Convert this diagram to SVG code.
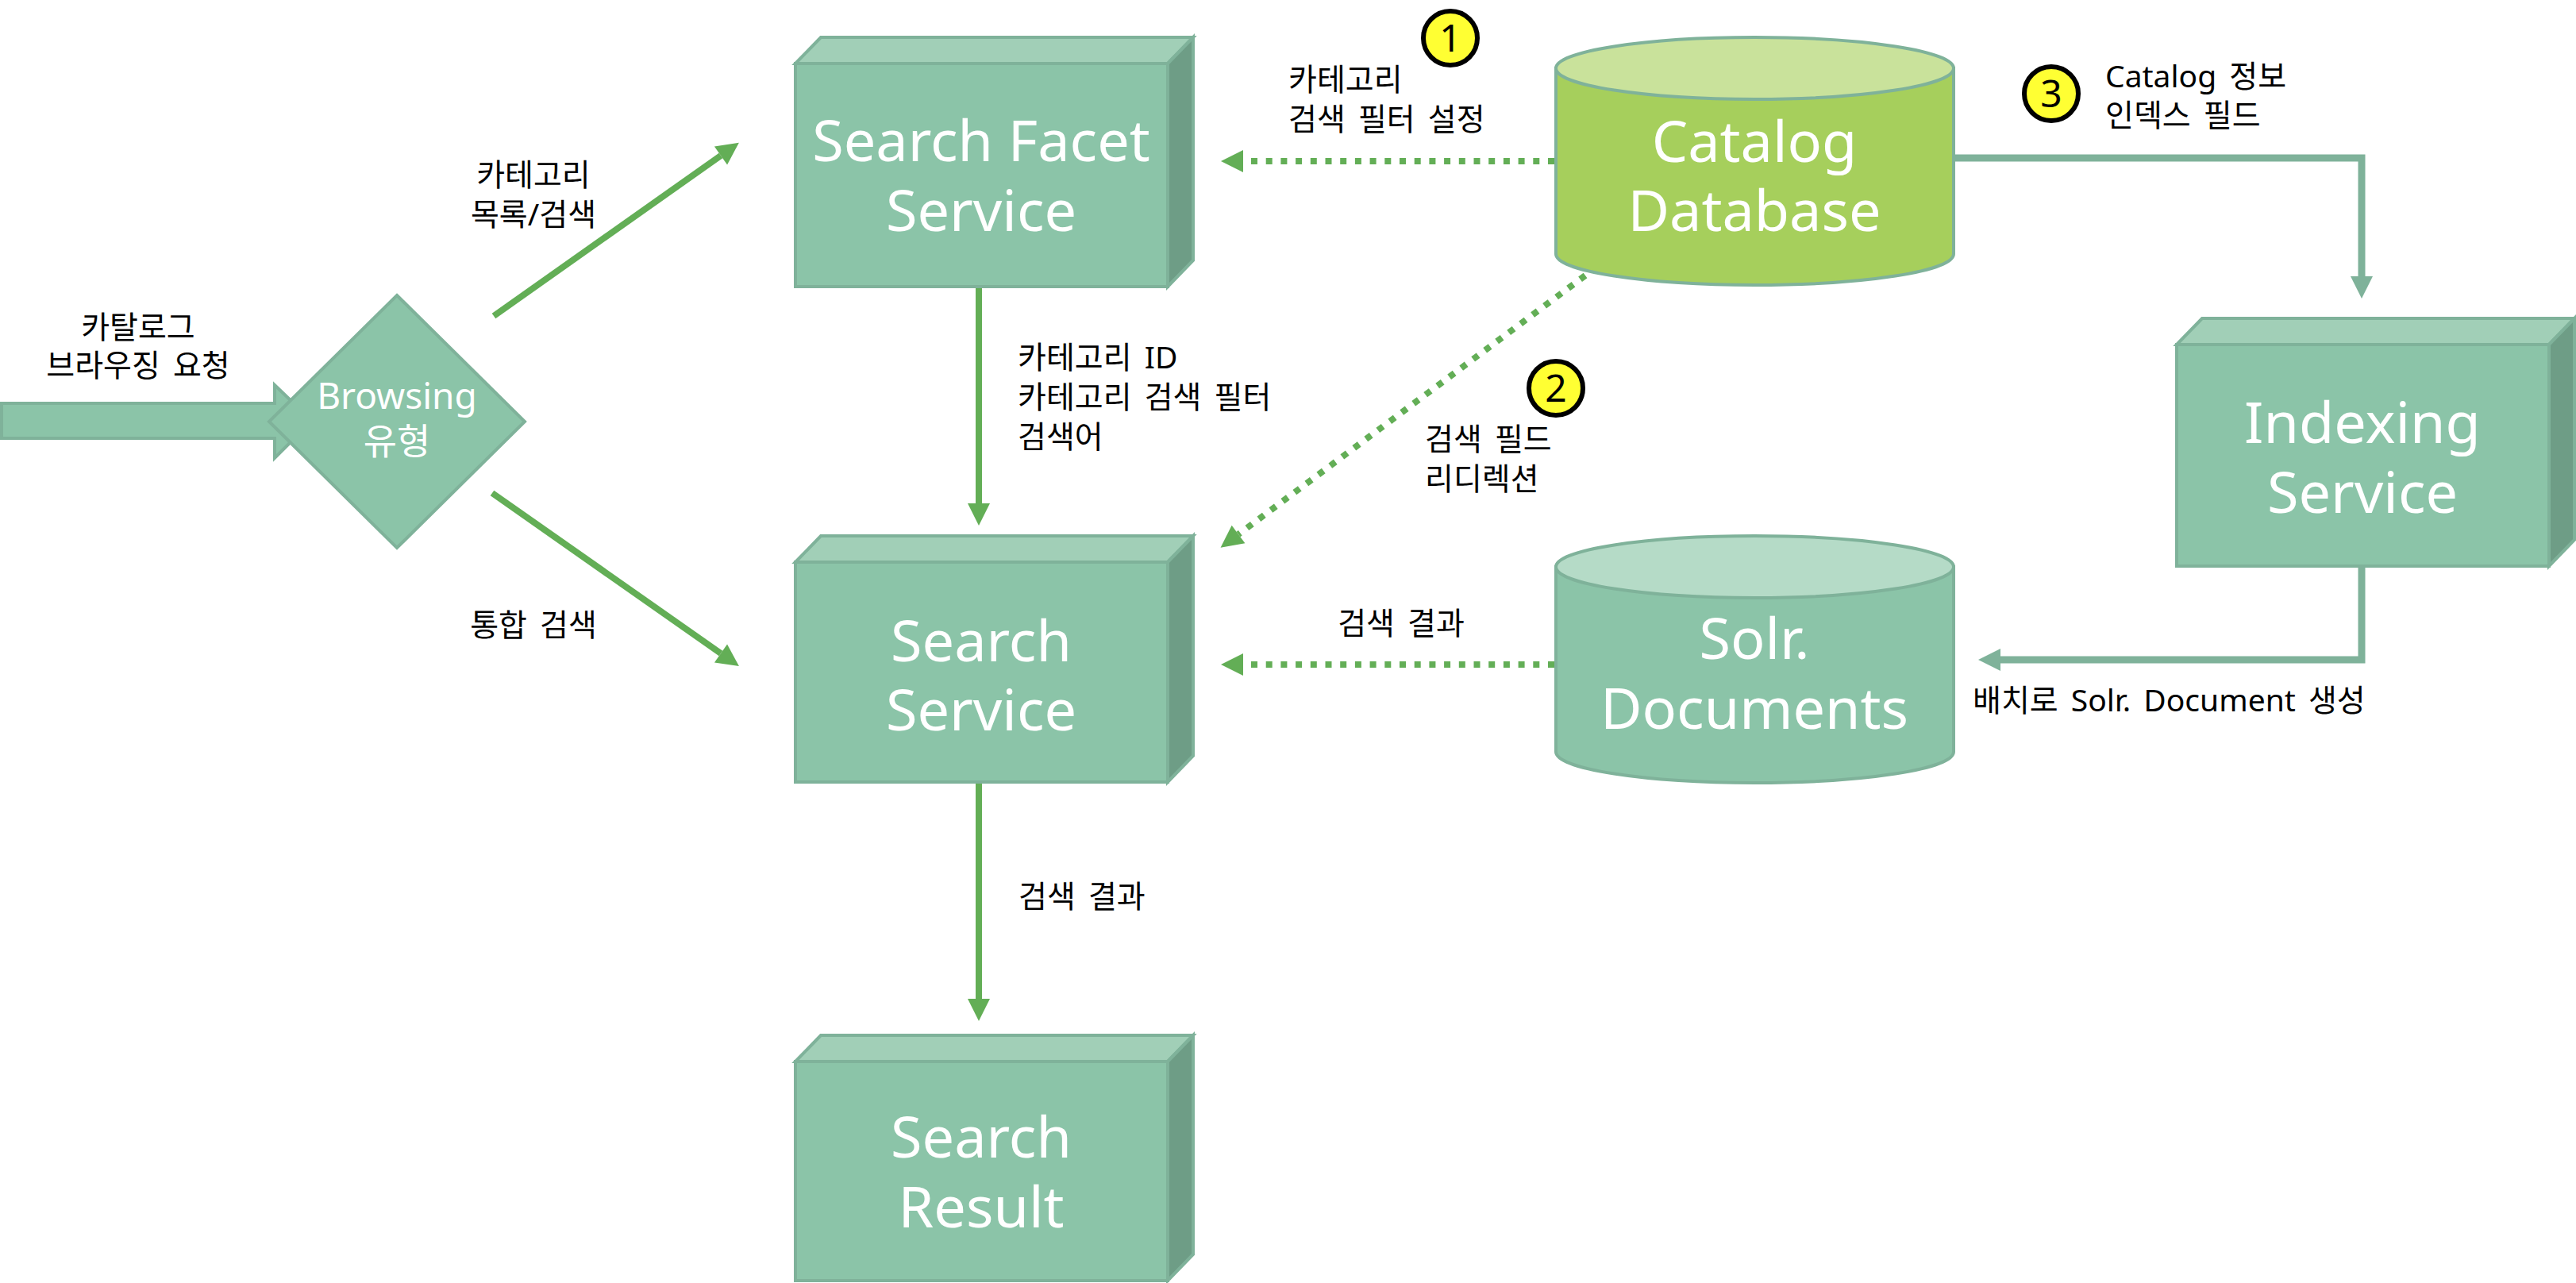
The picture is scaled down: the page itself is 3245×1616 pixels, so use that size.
<svg xmlns="http://www.w3.org/2000/svg" width="3245" height="1616" viewBox="0 0 3245 1616">
<defs>
<style>
.front{fill:#8BC4A8;stroke:#7FB29A;stroke-width:4;stroke-linejoin:miter}
.top{fill:#A1CFB7;stroke:#7FB29A;stroke-width:4}
.side{fill:#6E9D86;stroke:#7FB29A;stroke-width:4}
.ntext{font-family:"Noto Sans","Noto Sans CJK KR",sans-serif;font-size:72px;fill:#FFFFFF;text-anchor:middle}
.lbl{font-family:"Noto Sans","Noto Sans CJK KR",sans-serif;font-size:39px;word-spacing:6px;fill:#000000}
.mid{text-anchor:middle}
.solid{fill:none;stroke:#63AE56;stroke-width:8;marker-end:url(#ahg)}
.dot{fill:none;stroke:#63AE56;stroke-width:8;stroke-dasharray:8 10.7;marker-end:url(#ahg)}
.teal{fill:none;stroke:#7FB29A;stroke-width:9;marker-end:url(#aht)}
.num{fill:#FFFF33;stroke:#000000;stroke-width:6}
.numt{font-family:"Noto Sans",sans-serif;font-size:48px;fill:#000000;text-anchor:middle}
</style>
<marker id="ahg" markerUnits="userSpaceOnUse" markerWidth="28" markerHeight="28" viewBox="0 0 28 28" refX="0" refY="14" orient="auto" overflow="visible">
<path d="M0,0 L28,14 L0,28 z" fill="#63AE56"/>
</marker>
<marker id="aht" markerUnits="userSpaceOnUse" markerWidth="28" markerHeight="28" viewBox="0 0 28 28" refX="0" refY="14" orient="auto" overflow="visible">
<path d="M0,0 L28,14 L0,28 z" fill="#7FB29A"/>
</marker>
</defs>
<rect width="3245" height="1616" fill="#FFFFFF"/>

<g id="connectors">
<polygon id="entry-arrow" points="2,508 346,508 346,485 393,530 346,577 346,552 2,552" fill="#8BC4A8" stroke="#7FB29A" stroke-width="4"/>
<line class="solid" x1="622" y1="398" x2="908" y2="196"/>
<line class="solid" x1="620" y1="621" x2="908" y2="823"/>
<line class="solid" x1="1233" y1="362" x2="1233" y2="634"/>
<line class="solid" x1="1233" y1="987" x2="1233" y2="1258"/>
<line class="dot" x1="1958" y1="203" x2="1566" y2="203"/>
<line class="dot" x1="1958" y1="837" x2="1566" y2="837"/>
<line class="dot" x1="1997" y1="347" x2="1560" y2="673"/>
<polyline class="teal" points="2461,199 2975,199 2975,348"/>
<polyline class="teal" points="2975,713 2975,831 2520,831"/>
</g>

<g id="browsing-type">
<polygon points="500,372 661,531 500,690 339,531" fill="#8BC4A8" stroke="#7FB29A" stroke-width="4"/>
<text font-family="'Noto Sans','Noto Sans CJK KR',sans-serif" font-size="46" fill="#FFFFFF" text-anchor="middle" x="500" y="515">Browsing</text>
<text font-family="'Noto Sans','Noto Sans CJK KR',sans-serif" font-size="46" fill="#FFFFFF" text-anchor="middle" x="500" y="572">유형</text>
</g>

<g id="search-facet-service">
<polygon class="top" points="1002,80 1034,47 1503,47 1471,80"/>
<polygon class="side" points="1471,80 1503,47 1503,328 1471,361"/>
<rect class="front" x="1002" y="80" width="469" height="281"/>
<text class="ntext" x="1236" y="203">Search Facet</text>
<text class="ntext" x="1236" y="291">Service</text>
</g>

<g id="search-service">
<polygon class="top" points="1002,708 1034,675 1503,675 1471,708"/>
<polygon class="side" points="1471,708 1503,675 1503,952 1471,985"/>
<rect class="front" x="1002" y="708" width="469" height="277"/>
<text class="ntext" x="1236" y="833">Search</text>
<text class="ntext" x="1236" y="920">Service</text>
</g>

<g id="search-result">
<polygon class="top" points="1002,1337 1034,1304 1503,1304 1471,1337"/>
<polygon class="side" points="1471,1337 1503,1304 1503,1580 1471,1613"/>
<rect class="front" x="1002" y="1337" width="469" height="276"/>
<text class="ntext" x="1236" y="1458">Search</text>
<text class="ntext" x="1236" y="1546">Result</text>
</g>

<g id="indexing-service">
<polygon class="top" points="2742,434 2774,401 3243,401 3211,434"/>
<polygon class="side" points="3211,434 3243,401 3243,680 3211,713"/>
<rect class="front" x="2742" y="434" width="469" height="279"/>
<text class="ntext" x="2976" y="558">Indexing</text>
<text class="ntext" x="2976" y="646">Service</text>
</g>

<g id="catalog-database">
<path d="M1960,86 L1960,320 A250.5,39 0 0 0 2461,320 L2461,86 Z" fill="#A6CF5C" stroke="#7FB29A" stroke-width="4"/>
<ellipse cx="2210.5" cy="86" rx="250.5" ry="39" fill="#C9E29B" stroke="#7FB29A" stroke-width="4"/>
<text class="ntext" x="2210" y="204">Catalog</text>
<text class="ntext" x="2210" y="291">Database</text>
</g>

<g id="solr-documents">
<path d="M1960,714 L1960,947 A250.5,39 0 0 0 2461,947 L2461,714 Z" fill="#8BC4A8" stroke="#7FB29A" stroke-width="4"/>
<ellipse cx="2210.5" cy="714" rx="250.5" ry="39" fill="#B5DBC7" stroke="#7FB29A" stroke-width="4"/>
<text class="ntext" x="2210" y="830">Solr.</text>
<text class="ntext" x="2210" y="918">Documents</text>
</g>

<g id="badge-1">
<circle class="num" cx="1827" cy="48" r="34"/>
<text class="numt" x="1827" y="65">1</text>
</g>
<g id="badge-2">
<circle class="num" cx="1960" cy="489" r="34"/>
<text class="numt" x="1960" y="506">2</text>
</g>
<g id="badge-3">
<circle class="num" cx="2584" cy="118" r="34"/>
<text class="numt" x="2584" y="135">3</text>
</g>

<g id="labels">
<text class="lbl mid" x="174" y="426">카탈로그</text>
<text class="lbl mid" x="174" y="474">브라우징 요청</text>
<text class="lbl mid" x="672" y="234">카테고리</text>
<text class="lbl mid" x="672" y="284">목록/검색</text>
<text class="lbl mid" x="672" y="801">통합 검색</text>
<text class="lbl" x="1623" y="114">카테고리</text>
<text class="lbl" x="1623" y="164">검색 필터 설정</text>
<text class="lbl" x="1282" y="464">카테고리 ID</text>
<text class="lbl" x="1282" y="514">카테고리 검색 필터</text>
<text class="lbl" x="1282" y="564">검색어</text>
<text class="lbl" x="1795" y="567">검색 필드</text>
<text class="lbl" x="1795" y="617">리디렉션</text>
<text class="lbl mid" x="1765" y="799">검색 결과</text>
<text class="lbl" x="2652" y="110">Catalog 정보</text>
<text class="lbl" x="2652" y="159">인덱스 필드</text>
<text class="lbl" x="2485" y="896">배치로 Solr. Document 생성</text>
<text class="lbl" x="1283" y="1143">검색 결과</text>
</g>
</svg>
